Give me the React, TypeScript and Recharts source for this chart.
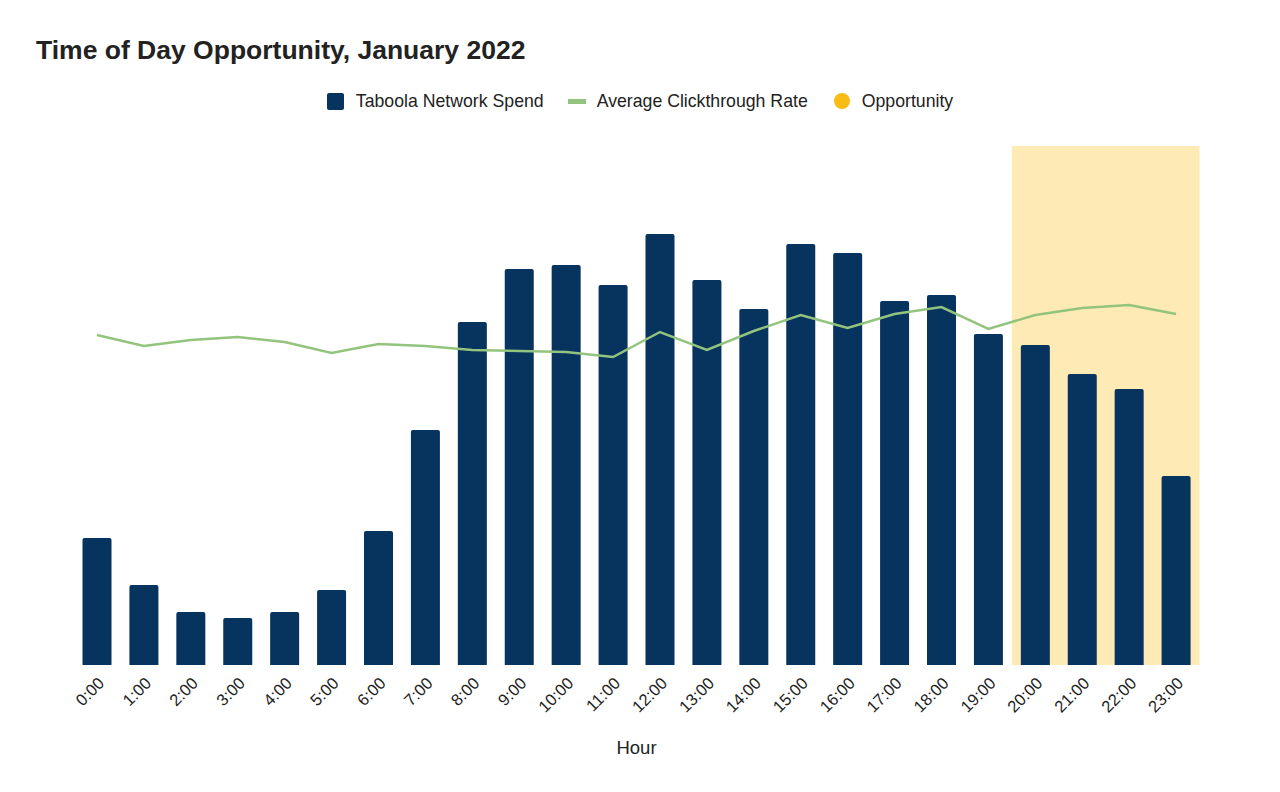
import { ComposedChart, Bar, Line, XAxis, YAxis, ReferenceArea } from 'recharts';

const FONT = 'Arial, "Liberation Sans", sans-serif';
const NAVY = '#07335f';
const GREEN = '#93c47d';
const GOLD = '#f9bc15';
const HIGHLIGHT = '#fdeab4';

const hours = [
  '0:00', '1:00', '2:00', '3:00', '4:00', '5:00', '6:00', '7:00', '8:00', '9:00', '10:00', '11:00',
  '12:00', '13:00', '14:00', '15:00', '16:00', '17:00', '18:00', '19:00', '20:00', '21:00', '22:00', '23:00',
];

// network spend, relative units
const spend = [
  127, 80, 53, 47, 53, 75, 134, 235, 343, 396, 400, 380,
  431, 385, 356, 421, 412, 364, 370, 331, 320, 291, 276, 189,
];

// average CTR, same relative scale
const ctr = [
  330, 319, 325, 328, 323, 312, 321, 319, 315, 314, 313, 308,
  333, 315, 334, 350, 337, 351, 358, 336, 350, 357, 360, 351,
];

const opportunityStart = '20:00';
const opportunityEnd = '23:00';

const data = hours.map((h, i) => ({ hour: h, spend: spend[i], ctr: ctr[i] }));

function ChartLegend() {
  const item = { display: 'flex', alignItems: 'center' } as const;
  return (
    <div
      style={{
        position: 'absolute', top: 83, left: 0, width: 1264, display: 'flex', justifyContent: 'center',
        fontFamily: FONT, fontSize: 17.7, color: '#222', lineHeight: '20px',
      }}
    >
      <div style={{ ...item, marginRight: 24 }}>
        <span style={{ width: 17, height: 17, background: NAVY, borderRadius: 2, marginRight: 12, display: 'inline-block' }} />
        Taboola Network Spend
      </div>
      <div style={{ ...item, marginRight: 26 }}>
        <span style={{ width: 18, height: 5, background: GREEN, marginRight: 11, display: 'inline-block' }} />
        Average Clickthrough Rate
      </div>
      <div style={item}>
        <span style={{ width: 16, height: 16, background: GOLD, borderRadius: '50%', marginRight: 12, display: 'inline-block' }} />
        Opportunity
      </div>
    </div>
  );
}

export default function App() {
  return (
    <div style={{ position: 'relative', width: 1264, height: 776, background: '#fff', fontFamily: FONT }}>
      <div style={{ position: 'absolute', left: 28, top: 27, fontSize: 26.5, fontWeight: 'bold', color: '#222' }}>
        Time of Day Opportunity, January 2022
      </div>
      <ChartLegend />
      <ComposedChart
        width={1264}
        height={776}
        data={data}
        margin={{ top: 138, right: 72.5, left: 65.5, bottom: 19 }}
      >
        <ReferenceArea x1={opportunityStart} x2={opportunityEnd} fill={HIGHLIGHT} fillOpacity={1} stroke="none" />
        <XAxis
          dataKey="hour"
          interval={0}
          axisLine={false}
          tickLine={false}
          height={100}
          angle={-45}
          textAnchor="end"
          tickMargin={5}
          tick={{ fontSize: 16.5, fill: '#222', fontFamily: FONT }}
          label={{ value: 'Hour', position: 'insideBottom', offset: 11, fontSize: 18.5, fill: '#222', fontFamily: FONT }}
        />
        <YAxis hide domain={[0, 519]} />
        <Bar dataKey="spend" name="Taboola Network Spend" fill={NAVY} barSize={29} radius={[2, 2, 0, 0]} isAnimationActive={false} />
        <Line
          dataKey="ctr"
          name="Average Clickthrough Rate"
          type="linear"
          stroke={GREEN}
          strokeWidth={2.5}
          dot={false}
          activeDot={false}
          isAnimationActive={false}
        />
      </ComposedChart>
    </div>
  );
}
